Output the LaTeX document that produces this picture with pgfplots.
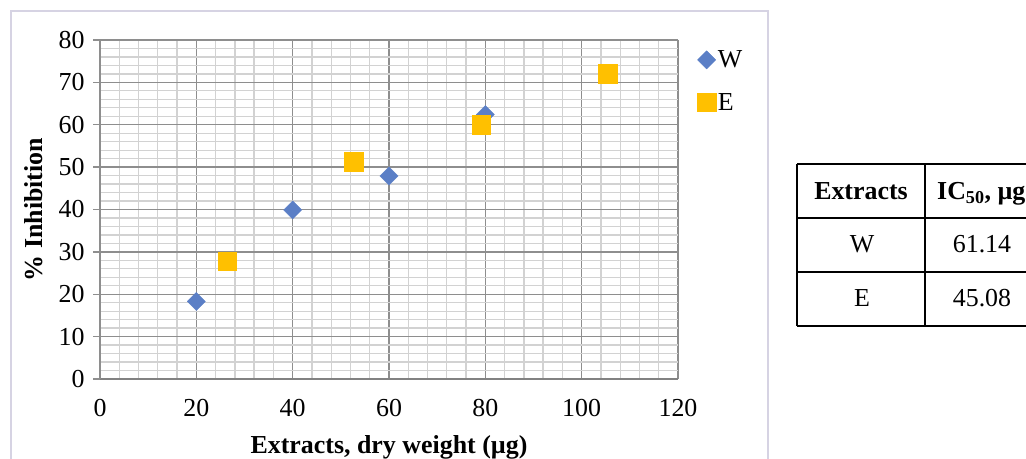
\documentclass[border=0pt]{standalone}
\usepackage{pgfplots}
\pgfplotsset{compat=1.18}
\usepackage{fontspec}
\setmainfont{Liberation Serif}
\definecolor{wblue}{HTML}{5B7FC6}
\definecolor{eyel}{HTML}{FFC000}
\definecolor{chartframe}{HTML}{D6D3E3}
\definecolor{majgrid}{HTML}{8E8E8E}
\definecolor{mingrid}{HTML}{D2D2D2}
\definecolor{xaxisgray}{HTML}{828282}
\begin{document}
\begin{tikzpicture}[x=1bp,y=1bp]
\useasboundingbox (0,0) rectangle (1026,459);
\clip (0,0) rectangle (1026,459);
\draw[chartframe, line width=1.5bp] (11,-5) -- (11,448) -- (768,448) -- (768,-5);
\begin{axis}[
  at={(100bp,80bp)}, anchor=south west,
  scale only axis, width=578bp, height=339bp,
  xmin=0, xmax=120, ymin=0, ymax=80,
  xtick={0,20,...,120}, ytick={0,10,...,80},
  minor x tick num=4, minor y tick num=4,
  grid=both,
  major grid style={draw=majgrid, line width=1.4bp},
  minor grid style={draw=mingrid, line width=1.3bp},
  axis x line*=bottom, axis y line*=left,
  axis line style={draw=majgrid, line width=1.5bp},
  x axis line style={draw=xaxisgray},
  tick align=outside,
  major tick length=7bp, minor tick length=0pt,
  xtick style={draw=none},
  ytick style={draw=majgrid, line width=1.3bp},
  /pgf/number format/assume math mode=true,
  ticklabel style={font=\fontsize{26}{30}\selectfont},
  yticklabel style={xshift=-5bp},
  xticklabel style={yshift=-10bp},
  xlabel={Extracts, dry weight (µg)},
  ylabel={\% Inhibition},
  label style={font=\fontsize{26}{30}\selectfont\bfseries},
  xlabel style={at={(axis description cs:0.5,-0.219)}, anchor=base},
  ylabel style={at={(axis description cs:-0.1003,0.5)}, anchor=base},
  legend style={draw=none, fill=none, at={(axis description cs:1.033,0.975)}, anchor=north west,
    font=\fontsize{26}{30}\selectfont, row sep=20bp, inner sep=0pt},
  legend cell align=left,
]
\addplot[only marks, mark=square*, mark size=6.4bp, mark options={rotate=45, draw=wblue, fill=wblue}]
  coordinates {(20,18.3) (40,39.9) (60,47.9) (80,62.4)};
\addlegendentry{W}
\addplot[only marks, mark=square*, mark size=9.3bp, mark options={draw=eyel, fill=eyel}]
  coordinates {(26.4,27.8) (52.7,51.3) (79.1,60.0) (105.4,72.1)};
\addlegendentry{E}
\end{axis}
% IC50 table
\draw[black, line width=1.5bp] (797,295) -- (1030,295);
\draw[black, line width=1.5bp] (797,241) -- (1030,241);
\draw[black, line width=1.5bp] (797,187) -- (1030,187);
\draw[black, line width=1.5bp] (797,133) -- (1030,133);
\draw[black, line width=1.5bp] (797,295) -- (797,133);
\draw[black, line width=1.5bp] (925,295) -- (925,133);
\begin{scope}[every node/.style={font=\fontsize{26}{30}\selectfont, inner sep=0pt}]
\node[anchor=base] at (861,259) {\bfseries Extracts};
\node[anchor=base west] at (937,259) {\bfseries IC\textsubscript{50}, µg};
\node[anchor=base] at (862,206) {W};
\node[anchor=base] at (982,206) {61.14};
\node[anchor=base] at (862,152) {E};
\node[anchor=base] at (982,152) {45.08};
\end{scope}
\end{tikzpicture}
\end{document}
